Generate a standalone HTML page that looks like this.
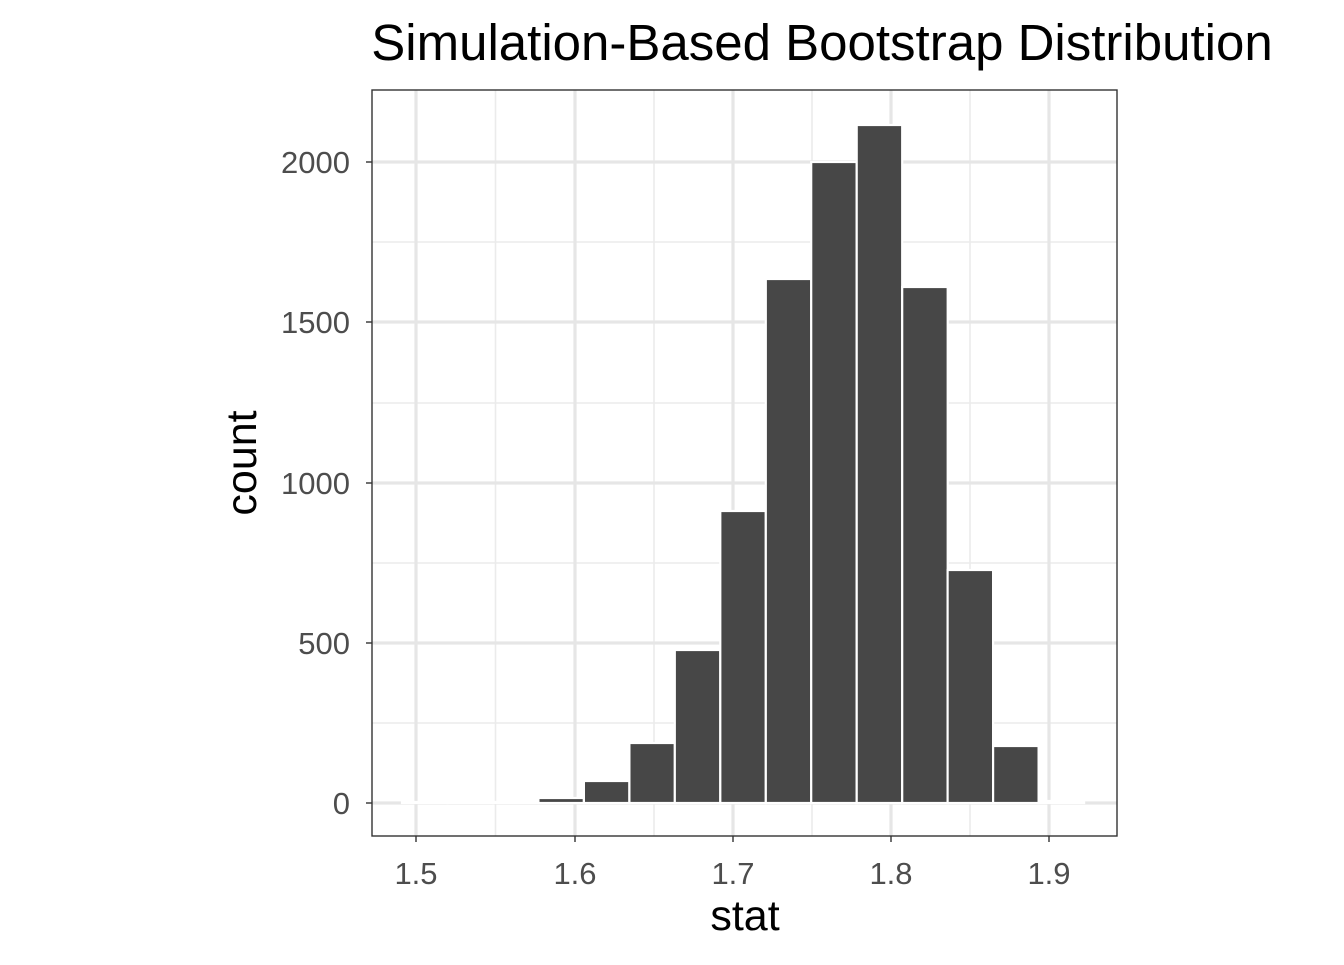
<!DOCTYPE html>
<html><head><meta charset="utf-8"><style>body{margin:0;background:#fff}</style></head><body>
<svg width="1344" height="960" xmlns="http://www.w3.org/2000/svg" font-family="Liberation Sans, Arial, sans-serif">
<rect width="1344" height="960" fill="#fff"/>
<g stroke="#EBEBEB" stroke-width="1.6">
<line x1="372" x2="1117" y1="723" y2="723"/><line x1="372" x2="1117" y1="563" y2="563"/>
<line x1="372" x2="1117" y1="403" y2="403"/><line x1="372" x2="1117" y1="242" y2="242"/>
<line y1="90" y2="836" x1="495.5" x2="495.5"/><line y1="90" y2="836" x1="654" x2="654"/>
<line y1="90" y2="836" x1="812" x2="812"/><line y1="90" y2="836" x1="970" x2="970"/>
</g>
<g stroke="#E6E6E6" stroke-width="3.2">
<line x1="372" x2="1117" y1="803" y2="803"/><line x1="372" x2="1117" y1="643" y2="643"/>
<line x1="372" x2="1117" y1="483" y2="483"/><line x1="372" x2="1117" y1="322" y2="322"/>
<line x1="372" x2="1117" y1="162" y2="162"/>
<line y1="90" y2="836" x1="416" x2="416"/><line y1="90" y2="836" x1="575" x2="575"/>
<line y1="90" y2="836" x1="733" x2="733"/><line y1="90" y2="836" x1="891" x2="891"/>
<line y1="90" y2="836" x1="1049" x2="1049"/>
</g>
<g fill="#474747" stroke="#fff" stroke-width="2.2">
<rect x="402" y="802" width="45.5" height="1"/>
<rect x="447.5" y="802" width="45.5" height="1"/>
<rect x="493" y="802" width="45.5" height="1"/>
<rect x="538.4" y="798" width="45.5" height="5"/>
<rect x="583.9" y="781" width="45.5" height="22"/>
<rect x="629.4" y="743" width="45.5" height="60"/>
<rect x="674.8" y="650" width="45.5" height="153"/>
<rect x="720.3" y="511" width="45.5" height="292"/>
<rect x="765.8" y="279" width="45.5" height="524"/>
<rect x="811.2" y="162" width="45.5" height="641"/>
<rect x="856.7" y="125" width="45.5" height="678"/>
<rect x="902.2" y="287" width="45.5" height="516"/>
<rect x="947.6" y="570" width="45.5" height="233"/>
<rect x="993.1" y="746" width="45.5" height="57"/>
<rect x="1038.6" y="801" width="45.5" height="2"/>
</g>
<rect x="372" y="90" width="745" height="746" fill="none" stroke="#333" stroke-width="1.4"/>
<g stroke="#333" stroke-width="1.4">
<line x1="366" x2="372" y1="803" y2="803"/><line x1="366" x2="372" y1="643" y2="643"/>
<line x1="366" x2="372" y1="483" y2="483"/><line x1="366" x2="372" y1="322" y2="322"/>
<line x1="366" x2="372" y1="162" y2="162"/>
<line y1="836" y2="842" x1="416" x2="416"/><line y1="836" y2="842" x1="575" x2="575"/>
<line y1="836" y2="842" x1="733" x2="733"/><line y1="836" y2="842" x1="891" x2="891"/>
<line y1="836" y2="842" x1="1049" x2="1049"/>
</g>
<g fill="#4D4D4D" font-size="31" text-anchor="end">
<text x="350" y="814">0</text><text x="350" y="654">500</text><text x="350" y="494">1000</text>
<text x="350" y="333">1500</text><text x="350" y="173">2000</text>
</g>
<g fill="#4D4D4D" font-size="31" text-anchor="middle">
<text x="416" y="884">1.5</text><text x="575" y="884">1.6</text><text x="733" y="884">1.7</text>
<text x="891" y="884">1.8</text><text x="1049" y="884">1.9</text>
</g>
<text x="745" y="930" font-size="43" text-anchor="middle">stat</text>
<text transform="translate(256,463) rotate(-90)" font-size="43" text-anchor="middle">count</text>
<text x="822" y="60" font-size="51" text-anchor="middle">Simulation-Based Bootstrap Distribution</text>
</svg>
</body></html>
